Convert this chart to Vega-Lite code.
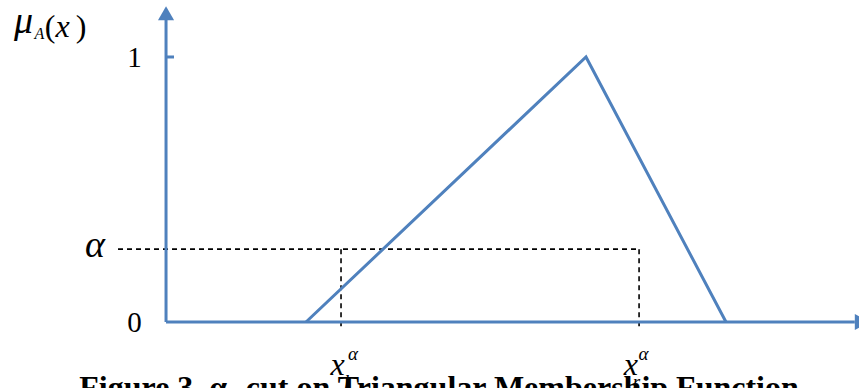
{
  "$schema": "https://vega.github.io/schema/vega-lite/v6.json",
  "width": 859,
  "height": 388,
  "padding": 0,
  "autosize": {"type": "none"},
  "background": "white",
  "config": {"view": {"stroke": null}},
  "datasets": {
    "axes": [
      {"part": "yaxis", "x": 0, "y": 0, "x2": 0, "y2": 1.16},
      {"part": "xaxis", "x": 0, "y": 0, "x2": 4.92, "y2": 0},
      {"part": "tick1", "x": 0, "y": 1, "x2": 0.057, "y2": 1}
    ],
    "tri": [
      {"x": 1, "y": 0, "o": 1},
      {"x": 3, "y": 1, "o": 2},
      {"x": 4, "y": 0, "o": 3}
    ],
    "dash": [
      {"part": "alpha", "x": -0.343, "y": 0.275, "x2": 3.386, "y2": 0.275},
      {"part": "xl", "x": 1.25, "y": 0.275, "x2": 1.25, "y2": -0.02},
      {"part": "xr", "x": 3.379, "y": 0.275, "x2": 3.379, "y2": -0.02}
    ],
    "arrowUp": [{"x": 0, "y": 1.165}],
    "arrowRight": [{"x": 4.97, "y": 0}],
    "ticks": [
      {"label": "1", "x": -0.225, "y": 0.962},
      {"label": "0", "x": -0.225, "y": -0.038}
    ],
    "alphaBig": [
      {"label": "α", "x": -0.507, "y": 0.245}
    ],
    "mu": [
      {"label": "μ", "x": -1.018, "y": 1.09}
    ],
    "italicBig": [
      {"label": "x", "x": -0.739, "y": 1.075},
      {"label": "x", "x": 1.225, "y": -0.2},
      {"label": "x", "x": 3.32, "y": -0.2}
    ],
    "parens": [
      {"label": "(", "x": -0.829, "y": 1.075},
      {"label": ")", "x": -0.607, "y": 1.075}
    ],
    "subA": [
      {"label": "A", "x": -0.905, "y": 1.068}
    ],
    "italicSmall": [
      {"label": "α", "x": 1.336, "y": -0.143},
      {"label": "α", "x": 3.41, "y": -0.143},
      {"label": "l", "x": 1.29, "y": -0.25},
      {"label": "r", "x": 3.36, "y": -0.25}
    ],
    "caption": [
      {"label": "Figure 3. α- cut on Triangular Membership Function", "x": 1.95, "y": -0.285}
    ]
  },
  "encoding": {
    "x": {"field": "x", "type": "quantitative", "scale": {"domain": [-1.186, 4.95], "nice": false, "zero": false}, "axis": null},
    "y": {"field": "y", "type": "quantitative", "scale": {"domain": [-0.249, 1.215], "nice": false, "zero": false}, "axis": null}
  },
  "layer": [
    {
      "data": {"name": "dash"},
      "mark": {"type": "rule", "color": "black", "strokeWidth": 1.6, "strokeDash": [5, 4]},
      "encoding": {"x2": {"field": "x2"}, "y2": {"field": "y2"}}
    },
    {
      "data": {"name": "axes"},
      "mark": {"type": "rule", "color": "#4f81bd", "strokeWidth": 3},
      "encoding": {"x2": {"field": "x2"}, "y2": {"field": "y2"}}
    },
    {
      "data": {"name": "tri"},
      "mark": {"type": "line", "color": "#4f81bd", "strokeWidth": 3},
      "encoding": {"order": {"field": "o"}}
    },
    {
      "data": {"name": "arrowUp"},
      "mark": {"type": "point", "shape": "triangle-up", "filled": true, "color": "#4f81bd", "size": 260, "opacity": 1}
    },
    {
      "data": {"name": "arrowRight"},
      "mark": {"type": "point", "shape": "triangle-right", "filled": true, "color": "#4f81bd", "size": 260, "opacity": 1}
    },
    {
      "data": {"name": "ticks"},
      "mark": {"type": "text", "font": "Times New Roman", "fontSize": 29, "align": "center", "baseline": "alphabetic", "color": "black"},
      "encoding": {"text": {"field": "label"}}
    },
    {
      "data": {"name": "alphaBig"},
      "mark": {"type": "text", "font": "Times New Roman", "fontSize": 38, "fontStyle": "italic", "align": "center", "baseline": "alphabetic", "color": "black"},
      "encoding": {"text": {"field": "label"}}
    },
    {
      "data": {"name": "mu"},
      "mark": {"type": "text", "font": "Times New Roman", "fontSize": 38, "fontStyle": "italic", "align": "center", "baseline": "alphabetic", "color": "black"},
      "encoding": {"text": {"field": "label"}}
    },
    {
      "data": {"name": "italicBig"},
      "mark": {"type": "text", "font": "Times New Roman", "fontSize": 32, "fontStyle": "italic", "align": "center", "baseline": "alphabetic", "color": "black"},
      "encoding": {"text": {"field": "label"}}
    },
    {
      "data": {"name": "parens"},
      "mark": {"type": "text", "font": "Times New Roman", "fontSize": 32, "align": "center", "baseline": "alphabetic", "color": "black"},
      "encoding": {"text": {"field": "label"}}
    },
    {
      "data": {"name": "subA"},
      "mark": {"type": "text", "font": "Times New Roman", "fontSize": 16, "fontStyle": "italic", "align": "center", "baseline": "alphabetic", "color": "black"},
      "encoding": {"text": {"field": "label"}}
    },
    {
      "data": {"name": "italicSmall"},
      "mark": {"type": "text", "font": "Times New Roman", "fontSize": 19, "fontStyle": "italic", "align": "center", "baseline": "alphabetic", "color": "black"},
      "encoding": {"text": {"field": "label"}}
    },
    {
      "data": {"name": "caption"},
      "mark": {"type": "text", "font": "Times New Roman", "fontSize": 32, "fontWeight": "bold", "align": "center", "baseline": "alphabetic", "color": "black"},
      "encoding": {"text": {"field": "label"}}
    }
  ]
}
